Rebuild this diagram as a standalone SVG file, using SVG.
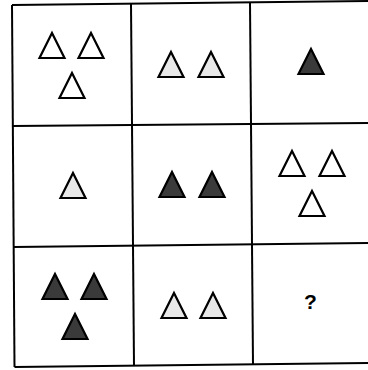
<svg xmlns="http://www.w3.org/2000/svg" xmlns:xlink="http://www.w3.org/1999/xlink" width="368" height="370" viewBox="0 0 368 370">
<style>
.grid{stroke:#000;stroke-width:2;fill:none}
.w{fill:#fff}
.l{fill:#e8e8e8}
.d{fill:#3a3a3a}
use{stroke:#000;stroke-width:2.2;stroke-linejoin:miter}
.q{font-family:"Liberation Sans",Arial,sans-serif;font-size:21px;font-weight:bold;fill:#000;text-anchor:middle}
</style>
<defs>
<path id="t" d="M0,0 L12.5,25 L-12.5,25 Z"/>
</defs>
<rect width="368" height="370" fill="#fff"/>
<g id="grid">
<line class="grid" x1="12" y1="5" x2="368" y2="1"/>
<line class="grid" x1="13" y1="126" x2="368" y2="123"/>
<line class="grid" x1="14" y1="247" x2="368" y2="243"/>
<line class="grid" x1="14.5" y1="367" x2="368" y2="363"/>
<line class="grid" x1="12" y1="5" x2="14.5" y2="367"/>
<line class="grid" x1="131" y1="4" x2="134" y2="366"/>
<line class="grid" x1="250" y1="3" x2="253" y2="365"/>
</g>
<g id="cell-r1c1"><use xlink:href="#t" href="#t" class="w" x="52" y="33"/><use xlink:href="#t" href="#t" class="w" x="91" y="33"/><use xlink:href="#t" href="#t" class="w" x="72" y="73"/></g>
<g id="cell-r1c2"><use xlink:href="#t" href="#t" class="l" x="171" y="52"/><use xlink:href="#t" href="#t" class="l" x="211" y="52"/></g>
<g id="cell-r1c3"><use xlink:href="#t" href="#t" class="d" x="311" y="49"/></g>
<g id="cell-r2c1"><use xlink:href="#t" href="#t" class="l" x="73" y="173"/></g>
<g id="cell-r2c2"><use xlink:href="#t" href="#t" class="d" x="172" y="172"/><use xlink:href="#t" href="#t" class="d" x="212" y="172"/></g>
<g id="cell-r2c3"><use xlink:href="#t" href="#t" class="w" x="292" y="151"/><use xlink:href="#t" href="#t" class="w" x="332" y="151"/><use xlink:href="#t" href="#t" class="w" x="312" y="191"/></g>
<g id="cell-r3c1"><use xlink:href="#t" href="#t" class="d" x="55" y="274"/><use xlink:href="#t" href="#t" class="d" x="94" y="274"/><use xlink:href="#t" href="#t" class="d" x="75" y="314"/></g>
<g id="cell-r3c2"><use xlink:href="#t" href="#t" class="l" x="174" y="293"/><use xlink:href="#t" href="#t" class="l" x="213" y="293"/></g>
<g id="cell-r3c3"><text class="q" x="310.5" y="309">?</text></g>
</svg>
